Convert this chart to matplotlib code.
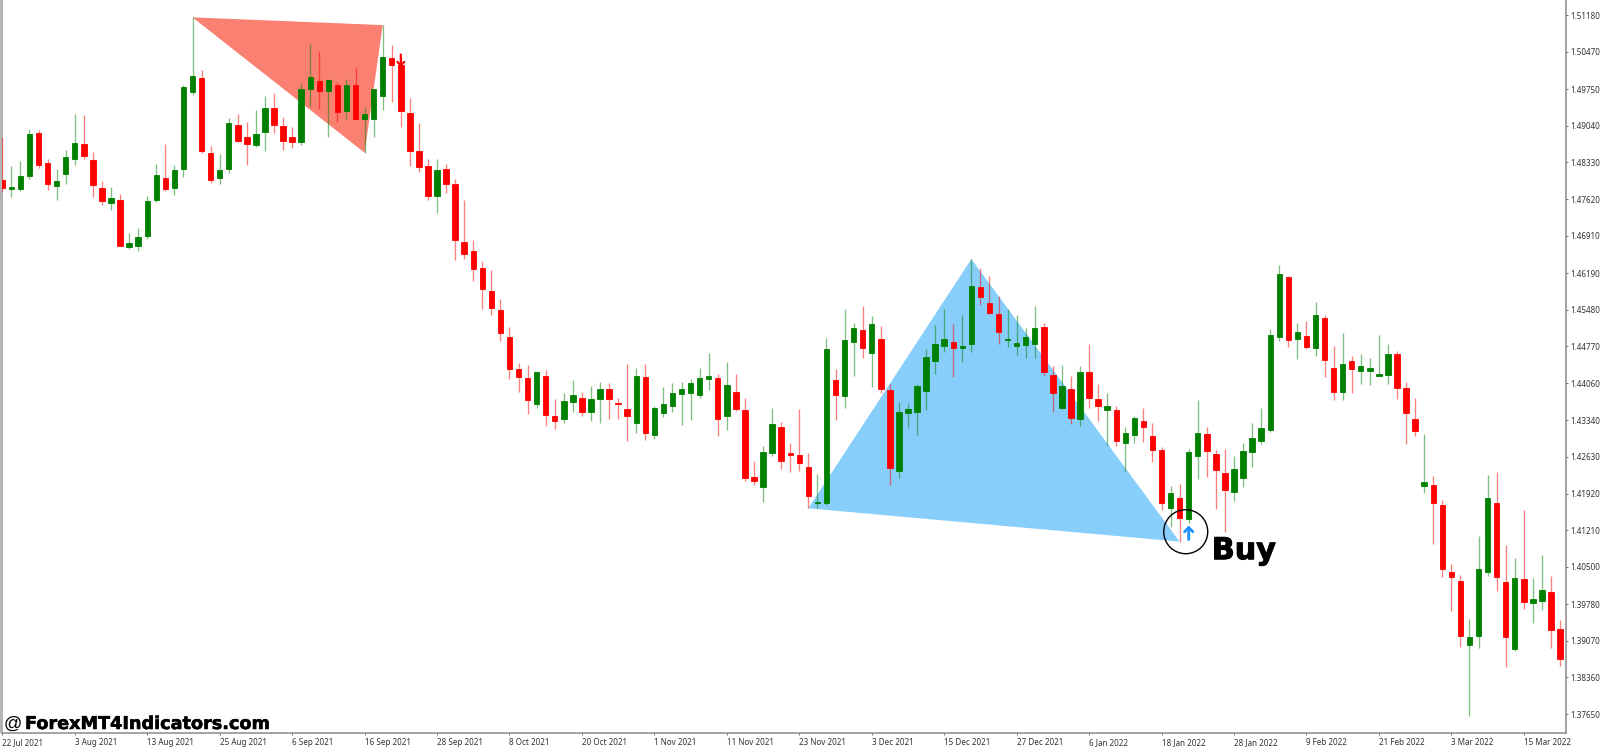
import matplotlib
matplotlib.use('Agg')
import matplotlib.pyplot as plt
import matplotlib.patheffects as pe
from matplotlib.patches import Polygon, Ellipse, Rectangle

# daily candles
highs = [
    1.4883, 1.4826, 1.4835, 1.4898, 1.4896, 1.4840, 1.4820, 1.4857, 1.4926, 1.4925,
    1.4853, 1.4798, 1.4785, 1.4772, 1.4696, 1.4707, 1.4769, 1.4830, 1.4869, 1.4828,
    1.4983, 1.5114, 1.5012, 1.4865, 1.4850, 1.4920, 1.4927, 1.4911, 1.4935, 1.4962,
    1.4967, 1.4921, 1.4901, 1.4985, 1.5063, 1.5049, 1.4994, 1.4989, 1.4994, 1.5015,
    1.4940, 1.4976, 1.5099, 1.5060, 1.5040, 1.4957, 1.4910, 1.4839, 1.4840, 1.4831,
    1.4802, 1.4760, 1.4682, 1.4643, 1.4624, 1.4569, 1.4514, 1.4444, 1.4440, 1.4429,
    1.4431, 1.4376, 1.4386, 1.4411, 1.4388, 1.4400, 1.4408, 1.4406, 1.4378, 1.4442,
    1.4435, 1.4442, 1.4362, 1.4398, 1.4407, 1.4408, 1.4414, 1.4436, 1.4464, 1.4424,
    1.4447, 1.4423, 1.4378, 1.4255, 1.4284, 1.4358, 1.4330, 1.4290, 1.4355, 1.4270,
    1.4229, 1.4494, 1.4433, 1.4549, 1.4522, 1.4555, 1.4536, 1.4516, 1.4405, 1.4369,
    1.4368, 1.4404, 1.4472, 1.4519, 1.4549, 1.4520, 1.4537, 1.4646, 1.4629, 1.4613,
    1.4575, 1.4549, 1.4537, 1.4512, 1.4555, 1.4522, 1.4439, 1.4440, 1.4420, 1.4439,
    1.4482, 1.4404, 1.4386, 1.4361, 1.4320, 1.4342, 1.4358, 1.4329, 1.4282, 1.4206,
    1.4211, 1.4278, 1.4373, 1.4320, 1.4276, 1.4278, 1.4264, 1.4289, 1.4328, 1.4358,
    1.4511, 1.4635, 1.4614, 1.4523, 1.4527, 1.4563, 1.4538, 1.4477, 1.4503, 1.4459,
    1.4463, 1.4454, 1.4499, 1.4481, 1.4469, 1.4408, 1.4377, 1.4307, 1.4227, 1.4180,
    1.4055, 1.4034, 1.3949, 1.4110, 1.4228, 1.4233, 1.4093, 1.4067, 1.4161, 1.4029,
    1.4073, 1.4032, 1.3947,
]
lows = [
    1.4775, 1.4767, 1.4777, 1.4801, 1.4822, 1.4779, 1.4760, 1.4792, 1.4829, 1.4839,
    1.4767, 1.4751, 1.4741, 1.4671, 1.4665, 1.4661, 1.4685, 1.4757, 1.4777, 1.4770,
    1.4804, 1.4964, 1.4851, 1.4794, 1.4792, 1.4813, 1.4872, 1.4828, 1.4863, 1.4856,
    1.4891, 1.4858, 1.4861, 1.4866, 1.4943, 1.4936, 1.4883, 1.4912, 1.4918, 1.4915,
    1.4852, 1.4883, 1.4934, 1.4951, 1.4902, 1.4827, 1.4815, 1.4760, 1.4736, 1.4774,
    1.4645, 1.4646, 1.4604, 1.4550, 1.4538, 1.4488, 1.4413, 1.4389, 1.4347, 1.4358,
    1.4323, 1.4318, 1.4328, 1.4350, 1.4342, 1.4333, 1.4329, 1.4337, 1.4336, 1.4293,
    1.4310, 1.4295, 1.4297, 1.4340, 1.4350, 1.4324, 1.4335, 1.4378, 1.4392, 1.4303,
    1.4316, 1.4351, 1.4216, 1.4209, 1.4175, 1.4264, 1.4240, 1.4234, 1.4235, 1.4164,
    1.4165, 1.4170, 1.4334, 1.4358, 1.4420, 1.4454, 1.4398, 1.4387, 1.4209, 1.4223,
    1.4319, 1.4305, 1.4353, 1.4424, 1.4466, 1.4418, 1.4446, 1.4466, 1.4558, 1.4540,
    1.4481, 1.4475, 1.4461, 1.4454, 1.4455, 1.4420, 1.4349, 1.4356, 1.4327, 1.4322,
    1.4357, 1.4333, 1.4284, 1.4284, 1.4235, 1.4289, 1.4292, 1.4254, 1.4161, 1.4128,
    1.4099, 1.4135, 1.4220, 1.4225, 1.4163, 1.4118, 1.4177, 1.4204, 1.4244, 1.4288,
    1.4311, 1.4487, 1.4476, 1.4452, 1.4471, 1.4459, 1.4418, 1.4373, 1.4373, 1.4387,
    1.4405, 1.4403, 1.4419, 1.4405, 1.4376, 1.4288, 1.4303, 1.4194, 1.4095, 1.4031,
    1.3965, 1.3895, 1.3762, 1.3894, 1.4033, 1.4004, 1.3857, 1.3887, 1.3969, 1.3941,
    1.3967, 1.3893, 1.3858,
]
opens = [
    1.4799, 1.4782, 1.4782, 1.4807, 1.4891, 1.4832, 1.4788, 1.4810, 1.4840, 1.4868,
    1.4838, 1.4783, 1.4754, 1.4761, 1.4669, 1.4672, 1.4690, 1.4761, 1.4803, 1.4783,
    1.4821, 1.4970, 1.4996, 1.4851, 1.4803, 1.4820, 1.4905, 1.4882, 1.4866, 1.4892,
    1.4938, 1.4904, 1.4882, 1.4873, 1.4975, 1.4991, 1.4972, 1.4984, 1.4933, 1.4984,
    1.4918, 1.4917, 1.4961, 1.5036, 1.5022, 1.4929, 1.4856, 1.4827, 1.4769, 1.4820,
    1.4791, 1.4680, 1.4661, 1.4628, 1.4585, 1.4547, 1.4495, 1.4433, 1.4416, 1.4366,
    1.4420, 1.4342, 1.4337, 1.4369, 1.4378, 1.4349, 1.4375, 1.4394, 1.4367, 1.4355,
    1.4329, 1.4417, 1.4306, 1.4348, 1.4361, 1.4384, 1.4387, 1.4382, 1.4413, 1.4416,
    1.4342, 1.4389, 1.4353, 1.4224, 1.4205, 1.4270, 1.4320, 1.4270, 1.4267, 1.4243,
    1.4174, 1.4173, 1.4411, 1.4381, 1.4486, 1.4508, 1.4465, 1.4491, 1.4393, 1.4235,
    1.4348, 1.4349, 1.4391, 1.4449, 1.4477, 1.4485, 1.4474, 1.4482, 1.4591, 1.4561,
    1.4539, 1.4490, 1.4478, 1.4480, 1.4482, 1.4515, 1.4422, 1.4358, 1.4394, 1.4336,
    1.4428, 1.4375, 1.4354, 1.4353, 1.4290, 1.4306, 1.4333, 1.4304, 1.4276, 1.4164,
    1.4184, 1.4142, 1.4265, 1.4308, 1.4268, 1.4232, 1.4196, 1.4222, 1.4273, 1.4293,
    1.4316, 1.4495, 1.4611, 1.4492, 1.4497, 1.4474, 1.4532, 1.4435, 1.4388, 1.4449,
    1.4429, 1.4429, 1.4419, 1.4422, 1.4462, 1.4397, 1.4337, 1.4207, 1.4208, 1.4169,
    1.4040, 1.4022, 1.3899, 1.3917, 1.4041, 1.4174, 1.4020, 1.3891, 1.4026, 1.3981,
    1.3984, 1.4001, 1.3929,
]
closes = [
    1.4783, 1.4785, 1.4807, 1.4889, 1.4829, 1.4791, 1.4797, 1.4843, 1.4871, 1.4846,
    1.4790, 1.4758, 1.4764, 1.4671, 1.4677, 1.4689, 1.4759, 1.4809, 1.4782, 1.4819,
    1.4979, 1.5000, 1.4855, 1.4799, 1.4818, 1.4909, 1.4875, 1.4869, 1.4889, 1.4939,
    1.4906, 1.4874, 1.4873, 1.4976, 1.4999, 1.4972, 1.4993, 1.4931, 1.4983, 1.4917,
    1.4926, 1.4976, 1.5037, 1.5022, 1.4932, 1.4856, 1.4825, 1.4769, 1.4819, 1.4791,
    1.4682, 1.4655, 1.4626, 1.4589, 1.4551, 1.4502, 1.4434, 1.4418, 1.4373, 1.4427,
    1.4344, 1.4333, 1.4371, 1.4383, 1.4350, 1.4376, 1.4394, 1.4376, 1.4366, 1.4342,
    1.4420, 1.4310, 1.4358, 1.4366, 1.4387, 1.4395, 1.4407, 1.4416, 1.4419, 1.4337,
    1.4402, 1.4356, 1.4223, 1.4217, 1.4273, 1.4326, 1.4256, 1.4267, 1.4252, 1.4187,
    1.4176, 1.4472, 1.4382, 1.4489, 1.4512, 1.4473, 1.4520, 1.4395, 1.4242, 1.4349,
    1.4356, 1.4400, 1.4456, 1.4481, 1.4491, 1.4474, 1.4478, 1.4594, 1.4573, 1.4542,
    1.4504, 1.4492, 1.4484, 1.4495, 1.4512, 1.4427, 1.4387, 1.4400, 1.4339, 1.4428,
    1.4378, 1.4361, 1.4362, 1.4293, 1.4309, 1.4339, 1.4320, 1.4277, 1.4173, 1.4194,
    1.4144, 1.4272, 1.4310, 1.4275, 1.4237, 1.4199, 1.4239, 1.4274, 1.4299, 1.4319,
    1.4499, 1.4618, 1.4490, 1.4504, 1.4475, 1.4537, 1.4450, 1.4388, 1.4443, 1.4434,
    1.4439, 1.4436, 1.4424, 1.4462, 1.4397, 1.4348, 1.4314, 1.4214, 1.4174, 1.4046,
    1.4031, 1.3917, 1.3914, 1.4046, 1.4183, 1.4031, 1.3915, 1.4029, 1.3982, 1.3987,
    1.4005, 1.3927, 1.3871,
]

price_labels = ['1.51180', '1.50470', '1.49750', '1.49040', '1.48330', '1.47620', '1.46910',
                '1.46190', '1.45480', '1.44770', '1.44060', '1.43340', '1.42630', '1.41920',
                '1.41210', '1.40500', '1.39780', '1.39070', '1.38360', '1.37650']
date_labels = ['22 Jul 2021', '3 Aug 2021', '13 Aug 2021', '25 Aug 2021', '6 Sep 2021',
               '16 Sep 2021', '28 Sep 2021', '8 Oct 2021', '20 Oct 2021', '1 Nov 2021',
               '11 Nov 2021', '23 Nov 2021', '3 Dec 2021', '15 Dec 2021', '27 Dec 2021',
               '6 Jan 2022', '18 Jan 2022', '28 Jan 2022', '9 Feb 2022', '21 Feb 2022',
               '3 Mar 2022', '15 Mar 2022']

# harmonic pattern triangles: bar index, price
sell_bars = [21, 42, 40]
sell_prices = [1.5114, 1.5099, 1.4852]
buy_bars = [89, 107, 130]
buy_prices = [1.41635, 1.4646, 1.4099]

GREEN = '#008000'
RED = '#ff0000'

fig = plt.figure(figsize=(16, 7.47), dpi=100, facecolor='white')
ax = fig.add_axes([2 / 1600, 14 / 747, 1564 / 1600, 733 / 747])
ax.patch.set_visible(False)
fig.add_artist(Rectangle((0, 14 / 747), 2.6 / 1600, 733 / 747, transform=fig.transFigure,
                         color='#b4b4b4', lw=0, zorder=-1))

ax.set_xlim(-0.036, 172.66)
ax.set_ylim(1.37285, 1.51476)

ax.add_patch(Polygon(list(zip(sell_bars, sell_prices)), closed=True, color='#fa8072', lw=0, zorder=1))
ax.add_patch(Polygon(list(zip(buy_bars, buy_prices)), closed=True, color='#87cefa', lw=0, zorder=1))

bars = range(len(opens))
colors = [GREEN if c >= o else RED for o, c in zip(opens, closes)]
ax.vlines(bars, lows, highs, colors=colors, linewidth=0.95, alpha=0.5, zorder=2)
ax.bar(bars, [c - o for o, c in zip(opens, closes)], bottom=opens, width=0.6,
       color=colors, edgecolor=colors, linewidth=0.6, zorder=3)

# sell arrow over bar 44, buy arrow under bar 131
ax.annotate('', xy=(44, 1.5018), xytext=(44, 1.5042),
            arrowprops=dict(arrowstyle='->,head_length=0.25,head_width=0.25', color=RED, lw=1.6,
                            shrinkA=0, shrinkB=0), zorder=4)
ax.annotate('', xy=(131, 1.4130), xytext=(131, 1.4103),
            arrowprops=dict(arrowstyle='->,head_length=0.3,head_width=0.3', color='#1e90ff', lw=2,
                            shrinkA=0, shrinkB=0), zorder=4)
ax.add_patch(Ellipse((130.67, 1.41182), 4.86, 0.00852, fill=False, ec='black', lw=1.0, zorder=5))

heavy = [pe.withStroke(linewidth=0.7, foreground='black')]
ax.text(133.55, 1.4065, 'Buy', fontsize=21.7, fontweight='bold', family='DejaVu Sans',
        color='black', ha='left', va='baseline', zorder=6, path_effects=heavy)

fig.text(4 / 1600, 18 / 747, '@', fontsize=13, family='Liberation Sans', color='black', ha='left', va='baseline')
fig.text(25 / 1600, 18 / 747, 'ForexMT4Indicators.com', fontsize=12.7, fontweight='bold',
         family='DejaVu Sans', color='black', ha='left', va='baseline',
         path_effects=[pe.withStroke(linewidth=0.4, foreground='black')])

ax.yaxis.tick_right()
ax.set_yticks([float(p) for p in price_labels])
ax.set_yticklabels(price_labels, family='Noto Sans', fontsize=5.8, color='#333333')
ax.set_xticks(list(range(0, 169, 8)))
ax.set_xticklabels(date_labels, family='Noto Sans', fontsize=5.8, color='#333333', ha='left', va='baseline')
ax.tick_params(axis='y', length=1.5, width=0.6, color='#555555', pad=1.5)
ax.tick_params(axis='x', length=1.5, width=0.6, color='#555555', pad=7.2)

for side in ['top', 'left']:
    ax.spines[side].set_visible(False)
for side in ['right', 'bottom']:
    ax.spines[side].set_color('#8a8a8a')
    ax.spines[side].set_linewidth(1.1)

fig.savefig('out.png', dpi=100, facecolor='white')
plt.close(fig)
